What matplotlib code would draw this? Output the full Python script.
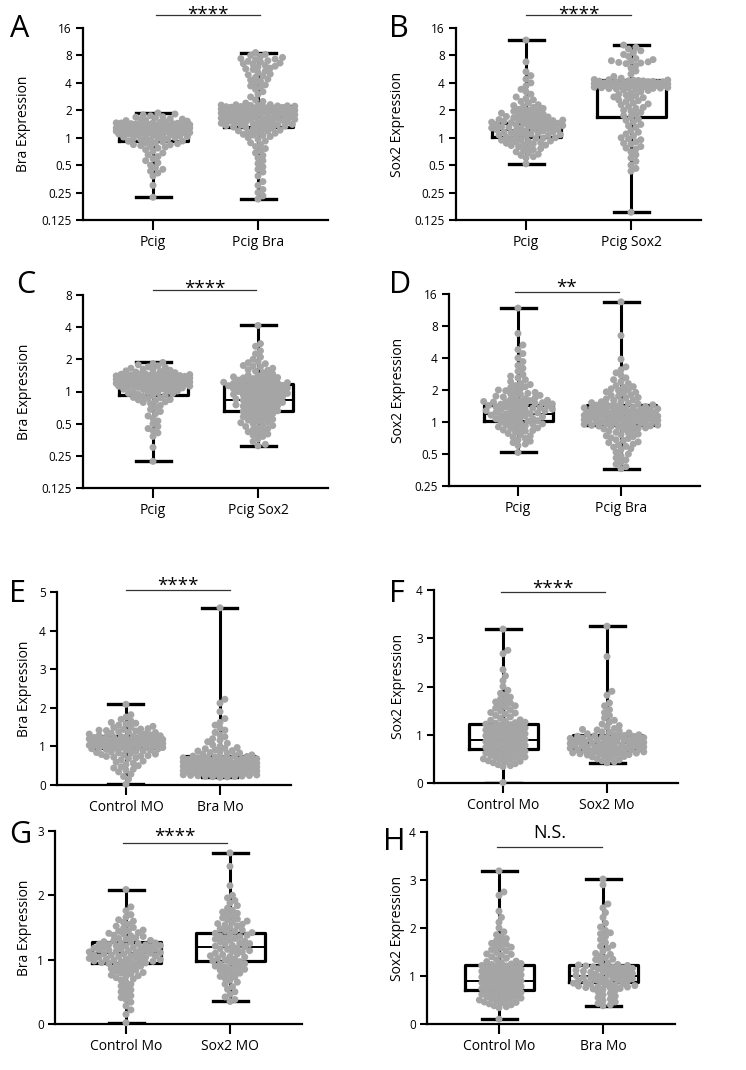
import numpy as np
import matplotlib
matplotlib.use("Agg")
import matplotlib.pyplot as plt
from matplotlib.ticker import FixedLocator, FixedFormatter, NullLocator

plt.rcParams['font.family'] = ['Open Sans', 'DejaVu Sans']

# ---------------- data ----------------
# box statistics: [min, q1, median, q3, max]
pcig_bra_box = [0.222, 0.93, 1.12, 1.31, 1.87]
pcigbra_bra_box = [0.212, 1.31, 1.69, 2.25, 8.6]
pcig_sox2_box = [0.517, 1.02, 1.2, 1.46, 11.8]
pcigsox2_sox2_box = [0.152, 1.69, 3.8, 4.28, 10.4]
pcigsox2_bra_box = [0.31, 0.65, 0.84, 1.18, 4.15]
pcigbra_sox2_box = [0.364, 0.93, 1.15, 1.43, 13.5]
ctrl_bra_box = [0.02, 0.95, 1.1, 1.27, 2.09]
bramo_bra_box = [0.2, 0.43, 0.55, 0.75, 4.59]
ctrl_sox2_f_box = [0.01, 0.71, 0.9, 1.22, 3.19]
ctrl_sox2_h_box = [0.10, 0.71, 0.9, 1.23, 3.19]
sox2mo_sox2_box = [0.42, 0.69, 0.82, 0.99, 3.25]
sox2mo_bra_box = [0.35, 0.98, 1.2, 1.41, 2.66]
bramo_sox2_box = [0.38, 0.88, 1.0, 1.23, 3.02]

# individual cell values
pcig_bra = [1.87, 1.82, 1.78, 1.74, 1.70, 1.68, 1.65, 1.62, 1.6, 1.58, 1.56, 1.54, 1.52, 1.5, 1.48,
            1.46, 1.45, 1.44, 1.43, 1.42, 1.41, 1.4, 1.39, 1.38, 1.37, 1.36, 1.35, 1.34, 1.33, 1.32,
            1.31, 1.30, 1.29, 1.28, 1.27, 1.26, 1.25, 1.24, 1.23, 1.22, 1.21, 1.20, 1.19, 1.18, 1.17,
            1.16, 1.15, 1.14, 1.13, 1.12, 1.11, 1.10, 1.08, 1.06, 1.05, 1.03, 1.01, 1.0, 0.98, 0.96,
            0.94, 0.92, 0.9, 0.88, 0.86, 0.84, 0.82, 0.8, 0.77, 0.74, 0.71, 0.68, 0.65, 0.62, 0.59,
            0.56, 0.53, 0.5, 0.47, 0.45, 0.43, 0.41, 0.38, 0.3, 0.222,
            1.455, 1.427, 1.409, 1.386, 1.372, 1.351, 1.338, 1.316, 1.297, 1.279, 1.258, 1.243,
            1.226, 1.208, 1.187, 1.173, 1.158, 1.137, 1.124, 1.107, 1.093, 1.072, 1.044, 1.017,
            0.987, 0.953, 0.915, 0.872, 0.835, 0.79]
pcigbra_bra = [8.6, 8.2, 8.0, 7.8, 7.6, 7.4, 7.2, 7.0, 6.8, 6.6, 6.4, 6.2, 6.0, 5.8, 5.6, 5.4,
               5.2, 5.0, 4.8, 4.6, 4.4, 4.2, 4.0, 3.8, 3.6, 3.4, 3.2, 3.0, 2.8, 2.6, 2.5, 2.4,
               2.3, 2.28, 2.26, 2.24, 2.22, 2.2, 2.18, 2.16, 2.14, 2.12, 2.1, 2.08, 2.06, 2.04, 2.02,
               2.0, 1.98, 1.96, 1.94, 1.92, 1.9, 1.88, 1.86, 1.84, 1.82, 1.8, 1.78, 1.76, 1.74, 1.72,
               1.7, 1.68, 1.66, 1.64, 1.62, 1.6, 1.58, 1.56, 1.54, 1.52, 1.5, 1.48, 1.46, 1.44, 1.42,
               1.4, 1.38, 1.36, 1.34, 1.32, 1.3, 1.27, 1.24, 1.21, 1.18, 1.15, 1.12, 1.09, 1.06, 1.03,
               1.0, 0.96, 0.92, 0.88, 0.84, 0.8, 0.76, 0.72, 0.68, 0.64, 0.6, 0.56, 0.52, 0.48, 0.45,
               0.42, 0.38, 0.33, 0.3, 0.27, 0.25, 0.23, 0.212,
               2.31, 2.27, 2.23, 2.19, 2.15, 2.11, 2.07, 2.03, 1.99, 1.95, 1.91, 1.87, 1.83, 1.79,
               1.75, 1.71, 1.67, 1.63, 1.59, 1.55, 1.51, 1.47, 1.43, 1.39, 1.35, 1.31, 1.25, 1.19,
               1.13, 1.07, 7.3, 6.9, 6.5, 6.1, 5.7, 4.9, 4.3, 3.7]
pcig_sox2 = [11.8, 6.8, 5.3, 4.8, 4.4, 4.0, 3.7, 3.4, 3.2, 3.0, 2.8, 2.7, 2.6, 2.5, 2.4, 2.3, 2.2,
             2.15, 2.1, 2.05, 2.0, 1.95, 1.9, 1.86, 1.82, 1.78, 1.75, 1.72, 1.69, 1.66, 1.63, 1.6,
             1.58, 1.56, 1.54, 1.52, 1.5, 1.48, 1.46, 1.44, 1.42, 1.4, 1.38, 1.36, 1.34, 1.32, 1.3,
             1.28, 1.26, 1.24, 1.22, 1.2, 1.18, 1.16, 1.14, 1.12, 1.1, 1.08, 1.06, 1.04, 1.02, 1.0,
             0.98, 0.96, 0.94, 0.92, 0.9, 0.88, 0.86, 0.84, 0.82, 0.8, 0.78, 0.76, 0.74, 0.72, 0.7,
             0.68, 0.66, 0.64, 0.62, 0.6, 0.517,
             1.59, 1.55, 1.51, 1.47, 1.43, 1.39, 1.35, 1.31, 1.27, 1.23, 1.19, 1.15, 1.11, 1.07,
             1.03, 0.99, 0.95, 0.91, 0.87, 0.83, 1.71, 1.84, 1.97, 2.25]
pcigsox2_sox2 = [10.4, 9.8, 9.4, 9.0, 8.6, 8.2, 7.8, 7.4, 7.2, 7.0, 6.9, 6.8, 6.7, 6.6, 6.5, 6.2, 5.8,
                 5.4, 5.0, 4.7, 4.5, 4.35, 4.3, 4.25, 4.2, 4.15, 4.1, 4.05, 4.0, 3.96, 3.92, 3.88,
                 3.84, 3.8, 3.76, 3.72, 3.68, 3.64, 3.6, 3.56, 3.52, 3.48, 3.44, 3.4, 3.35, 3.3, 3.2,
                 3.1, 3.0, 2.9, 2.8, 2.7, 2.6, 2.5, 2.4, 2.3, 2.2, 2.1, 2.0, 1.9, 1.8, 1.7, 1.6, 1.5,
                 1.4, 1.3, 1.2, 1.1, 1.05, 1.0, 0.95, 0.9, 0.85, 0.8, 0.75, 0.7, 0.65, 0.6, 0.55,
                 0.5, 0.46, 0.43, 0.152,
                 4.33, 4.28, 4.22, 4.18, 4.12, 4.07, 4.02, 3.98, 3.94, 3.9, 3.86, 3.82, 3.78, 3.74,
                 3.7, 3.66, 3.62, 3.58, 3.54, 3.5, 3.46, 2.95, 2.75,
                 2.55, 2.35, 2.15, 1.95, 1.75, 1.55, 1.35, 1.15, 0.97, 0.87, 0.77]
pcigsox2_bra = [4.15, 2.8, 2.65, 2.4, 2.25, 2.1, 2.0, 1.9, 1.82, 1.75, 1.7, 1.65, 1.6, 1.55, 1.5,
                1.46, 1.42, 1.4, 1.37, 1.34, 1.31, 1.28, 1.25, 1.22, 1.2, 1.18, 1.16, 1.14, 1.12,
                1.1, 1.08, 1.06, 1.04, 1.02, 1.0, 0.98, 0.96, 0.94, 0.92, 0.9, 0.88, 0.86, 0.84,
                0.82, 0.8, 0.78, 0.76, 0.74, 0.72, 0.7, 0.68, 0.66, 0.64, 0.62, 0.6, 0.58, 0.56,
                0.54, 0.52, 0.5, 0.48, 0.46, 0.44, 0.42, 0.4, 0.38, 0.36, 0.34, 0.32, 0.31,
                1.39, 1.35, 1.32, 1.29, 1.26, 1.23, 1.21, 1.19, 1.17, 1.15, 1.13, 1.11, 1.09, 1.07,
                1.05, 1.03, 1.01, 0.99, 0.97, 0.95, 0.93, 0.91, 0.89, 0.87, 0.85, 0.83, 0.81, 0.79,
                0.77, 0.75, 0.73, 0.71, 0.69, 0.67, 0.65, 0.63, 0.61, 0.59, 0.57, 0.55, 0.53, 0.51,
                0.49, 0.47, 0.45, 0.43, 0.41, 0.39, 1.58, 1.72, 1.86]
pcigbra_sox2 = [13.5, 6.5, 3.9, 3.3, 3.1, 2.9, 2.75, 2.6, 2.5, 2.4, 2.3, 2.2, 2.12, 2.05, 1.98, 1.92,
                1.86, 1.8, 1.75, 1.7, 1.65, 1.62, 1.6, 1.56, 1.52, 1.5, 1.48, 1.45, 1.42, 1.4, 1.39,
                1.36, 1.35, 1.33, 1.31, 1.3, 1.28, 1.27, 1.26, 1.25, 1.24, 1.23, 1.22, 1.21, 1.2,
                1.19, 1.18, 1.17, 1.16, 1.15, 1.14, 1.13, 1.12, 1.11, 1.1, 1.09, 1.08, 1.07, 1.06,
                1.05, 1.04, 1.03, 1.02, 1.01, 1.0, 0.99, 0.98, 0.97, 0.96, 0.95, 0.94, 0.93, 0.92,
                0.91, 0.9, 0.88, 0.87, 0.85, 0.82, 0.79, 0.76, 0.73, 0.7, 0.67, 0.64, 0.61, 0.58,
                0.55, 0.52, 0.5, 0.48, 0.46, 0.44, 0.42, 0.4, 0.38, 0.364,
                1.47, 1.44, 1.41, 1.38, 1.37, 1.34, 1.32, 1.29, 1.255, 1.235, 1.215, 1.195, 1.175,
                1.155, 1.135, 1.115, 1.095, 1.075, 1.055, 1.035, 1.015, 0.995, 0.975, 0.955, 0.935,
                0.915, 0.895, 0.86, 0.83, 0.8, 0.77, 0.74, 0.71, 0.68, 0.65, 0.62, 0.59, 0.56, 1.55,
                1.68, 1.78, 1.9, 2.0, 2.15]
ctrl_bra = [2.09, 1.82, 1.76, 1.7, 1.66, 1.62, 1.58, 1.55, 1.52, 1.49, 1.46, 1.44, 1.42, 1.4, 1.38,
            1.36, 1.34, 1.32, 1.3, 1.28, 1.26, 1.25, 1.24, 1.23, 1.22, 1.21, 1.2, 1.19, 1.18, 1.17,
            1.16, 1.15, 1.14, 1.13, 1.12, 1.11, 1.1, 1.09, 1.08, 1.07, 1.06, 1.05, 1.04, 1.03, 1.02,
            1.01, 1.0, 0.99, 0.98, 0.97, 0.96, 0.95, 0.94, 0.92, 0.9, 0.88, 0.86, 0.84, 0.82, 0.8,
            0.78, 0.76, 0.74, 0.72, 0.7, 0.68, 0.65, 0.62, 0.59, 0.56, 0.53, 0.5, 0.47, 0.44, 0.41,
            0.38, 0.34, 0.28, 0.22, 0.15, 0.02,
            1.295, 1.275, 1.255, 1.235, 1.215, 1.195, 1.175, 1.155, 1.135, 1.115, 1.095, 1.075,
            1.055, 1.035, 1.015, 0.995, 0.975, 0.955, 0.93, 0.91, 0.87, 0.83, 0.79, 0.75, 1.33,
            1.37, 1.41, 1.45, 1.5, 1.6]
bramo_bra = [4.59, 2.22, 2.12, 1.9, 1.72, 1.62, 1.55, 1.48, 1.42, 1.36, 1.3, 1.25, 1.2, 1.16, 1.12,
             1.08, 1.04, 1.0, 0.97, 0.94, 0.91, 0.88, 0.86, 0.84, 0.82, 0.8, 0.78, 0.76, 0.75, 0.74,
             0.73, 0.72, 0.71, 0.7, 0.69, 0.68, 0.67, 0.66, 0.65, 0.64, 0.63, 0.62, 0.61, 0.6, 0.59,
             0.58, 0.57, 0.56, 0.55, 0.54, 0.53, 0.52, 0.51, 0.5, 0.49, 0.48, 0.47, 0.46, 0.45, 0.44,
             0.43, 0.42, 0.41, 0.4, 0.39, 0.38, 0.37, 0.36, 0.35, 0.34, 0.33, 0.32, 0.31, 0.3, 0.29,
             0.28, 0.27, 0.26, 0.25, 0.24, 0.23, 0.22, 0.21, 0.2,
             0.705, 0.685, 0.665, 0.645, 0.625, 0.605, 0.585, 0.565, 0.545, 0.525, 0.505, 0.485,
             0.465, 0.445, 0.425, 0.405, 0.385, 0.365, 0.345, 0.325, 0.305, 0.285, 0.265, 0.245,
             0.225, 0.215, 0.83, 0.89, 0.95]
ctrl_sox2_f = [3.19, 2.75, 2.68, 2.35, 2.22, 2.12, 2.0, 1.92, 1.86, 1.82, 1.78, 1.74, 1.7, 1.66, 1.62,
               1.58, 1.55, 1.52, 1.49, 1.46, 1.43, 1.4, 1.37, 1.34, 1.31, 1.28, 1.26, 1.24, 1.22,
               1.2, 1.18, 1.16, 1.14, 1.12, 1.1, 1.08, 1.06, 1.04, 1.02, 1.0, 0.98, 0.96, 0.94,
               0.92, 0.9, 0.88, 0.86, 0.84, 0.82, 0.8, 0.78, 0.76, 0.74, 0.72, 0.7, 0.68, 0.66,
               0.64, 0.62, 0.6, 0.58, 0.56, 0.54, 0.52, 0.5, 0.48, 0.46, 0.44, 0.42, 0.4, 0.38,
               0.36, 0.34,
               1.25, 1.21, 1.17, 1.13, 1.09, 1.05, 1.01, 0.97, 0.93, 0.89, 0.85, 0.81, 0.77, 0.73,
               0.69, 0.65, 0.61, 0.57, 0.53, 0.49, 0.45, 1.3, 1.45, 1.6, 1.68, 0.01]
ctrl_sox2_h = ctrl_sox2_f[:-1] + [0.10]
sox2mo_sox2 = [3.25, 2.62, 1.9, 1.82, 1.66, 1.6, 1.52, 1.46, 1.4, 1.35, 1.3, 1.26, 1.22, 1.19, 1.16,
               1.13, 1.1, 1.08, 1.06, 1.04, 1.02, 1.0, 0.99, 0.98, 0.97, 0.96, 0.95, 0.94, 0.93,
               0.92, 0.91, 0.9, 0.89, 0.88, 0.87, 0.86, 0.85, 0.84, 0.83, 0.82, 0.81, 0.8, 0.79,
               0.78, 0.77, 0.76, 0.75, 0.74, 0.73, 0.72, 0.71, 0.7, 0.69, 0.68, 0.67, 0.66, 0.65,
               0.64, 0.63, 0.62, 0.61, 0.6, 0.58, 0.56, 0.54, 0.52, 0.5, 0.48, 0.46, 0.44, 0.42,
               0.985, 0.965, 0.945, 0.925, 0.905, 0.885, 0.865, 0.845, 0.825, 0.805, 0.785, 0.765,
               0.745, 0.725, 0.705, 0.685, 0.665, 0.645, 0.625, 0.605, 0.59, 0.57, 0.55, 1.05, 1.11]
sox2mo_bra = [2.66, 2.45, 2.15, 2.0, 1.96, 1.92, 1.88, 1.84, 1.8, 1.77, 1.74, 1.71, 1.68, 1.65, 1.62,
              1.6, 1.58, 1.56, 1.54, 1.52, 1.5, 1.48, 1.46, 1.44, 1.42, 1.4, 1.38, 1.36, 1.34, 1.32,
              1.3, 1.28, 1.26, 1.24, 1.22, 1.2, 1.18, 1.16, 1.14, 1.12, 1.1, 1.08, 1.06, 1.04, 1.02,
              1.0, 0.98, 0.96, 0.94, 0.92, 0.9, 0.88, 0.86, 0.84, 0.82, 0.8, 0.77, 0.74, 0.71, 0.68,
              0.65, 0.62, 0.58, 0.54, 0.5, 0.46, 0.42, 0.38, 0.35,
              1.45, 1.41, 1.37, 1.33, 1.29, 1.25, 1.21, 1.17, 1.13, 1.09, 1.05, 1.01, 0.97, 0.93,
              0.89, 0.85, 1.55, 1.63, 1.72, 0.79, 0.73]
bramo_sox2 = [3.02, 2.9, 2.5, 2.42, 2.32, 2.22, 2.1, 2.02, 1.95, 1.88, 1.82, 1.76, 1.7, 1.64, 1.58,
              1.52, 1.47, 1.42, 1.38, 1.34, 1.3, 1.27, 1.24, 1.22, 1.2, 1.18, 1.16, 1.14, 1.12, 1.1,
              1.08, 1.06, 1.04, 1.02, 1.0, 0.98, 0.96, 0.94, 0.92, 0.9, 0.88, 0.86, 0.84, 0.82, 0.8,
              0.78, 0.76, 0.74, 0.72, 0.7, 0.67, 0.64, 0.61, 0.58, 0.55, 0.52, 0.49, 0.46, 0.43,
              0.4, 0.38,
              1.23, 1.21, 1.19, 1.17, 1.15, 1.13, 1.11, 1.09, 1.07, 1.05, 1.03, 1.01, 0.99, 0.97,
              0.95, 0.93, 0.91, 0.89, 0.87, 0.85, 0.83, 0.81, 0.79, 0.77, 0.75, 0.73, 1.35, 1.45,
              1.62, 1.9]

log_ticks = [0.125, 0.25, 0.5, 1, 2, 4, 8, 16]
log_labels = ['0.125', '0.25', '0.5', '1', '2', '4', '8', '16']

# ---------------- layout ----------------
W, H = 746, 1070
fig = plt.figure(figsize=(W / 100, H / 100), dpi=100)

GREY = '#a5a5a5'
BOX_PX = 69
CAP_PX = 35
DOT_PX = 7.0

panels = [
    dict(letter='A', pix=(83, 328, 28, 220), ticks_px=(153, 258), log=True, ylim=(0.125, 16),
         yt=log_ticks, ytl=log_labels, ylabel='Bra Expression', labx=31,
         cats=['Pcig', 'Pcig Bra'], data=[pcig_bra, pcigbra_bra], box=[pcig_bra_box, pcigbra_bra_box],
         sig='****', sig_y=15, sig_x=(156, 260), sig_c=9, let=(10, 37)),
    dict(letter='B', pix=(456, 701, 28, 220), ticks_px=(526, 631), log=True, ylim=(0.125, 16),
         yt=log_ticks, ytl=log_labels, ylabel='Sox2 Expression', labx=405,
         cats=['Pcig', 'Pcig Sox2'], data=[pcig_sox2, pcigsox2_sox2], box=[pcig_sox2_box, pcigsox2_sox2_box],
         sig='****', sig_y=15, sig_x=(526, 631), sig_c=9, let=(389, 37)),
    dict(letter='C', pix=(83, 328, 295, 488), ticks_px=(153, 258), log=True, ylim=(0.125, 8),
         yt=log_ticks[:-1], ytl=log_labels[:-1], ylabel='Bra Expression', labx=32,
         cats=['Pcig', 'Pcig Sox2'], data=[pcig_bra, pcigsox2_bra], box=[pcig_bra_box, pcigsox2_bra_box],
         sig='****', sig_y=290, sig_x=(153, 256), sig_c=283.5, let=(16, 293)),
    dict(letter='D', pix=(449, 700, 294, 486), ticks_px=(518, 621), log=True, ylim=(0.25, 16),
         yt=log_ticks[1:], ytl=log_labels[1:], ylabel='Sox2 Expression', labx=406,
         cats=['Pcig', 'Pcig Bra'], data=[pcig_sox2, pcigbra_sox2], box=[pcig_sox2_box, pcigbra_sox2_box],
         sig='**', sig_y=292, sig_x=(515, 619), sig_c=282, let=(389, 293)),
    dict(letter='E', pix=(57, 291, 592, 785), ticks_px=(126, 220), log=False, ylim=(0, 5),
         yt=[0, 1, 2, 3, 4, 5], ytl=['0', '1', '2', '3', '4', '5'], ylabel='Bra Expression', labx=32,
         cats=['Control MO', 'Bra Mo'], data=[ctrl_bra, bramo_bra], box=[ctrl_bra_box, bramo_bra_box],
         sig='****', sig_y=590, sig_x=(126, 230), sig_c=580, let=(9, 602)),
    dict(letter='F', pix=(434, 678, 590, 783), ticks_px=(503, 607), log=False, ylim=(0, 4),
         yt=[0, 1, 2, 3, 4], ytl=['0', '1', '2', '3', '4'], ylabel='Sox2 Expression', labx=406,
         cats=['Control Mo', 'Sox2 Mo'], data=[ctrl_sox2_f, sox2mo_sox2], box=[ctrl_sox2_f_box, sox2mo_sox2_box],
         sig='****', sig_y=592, sig_x=(501, 605), sig_c=583.5, let=(389, 602)),
    dict(letter='G', pix=(55, 302, 831, 1024), ticks_px=(126, 230), log=False, ylim=(0, 3),
         yt=[0, 1, 2, 3], ytl=['0', '1', '2', '3'], ylabel='Bra Expression', labx=32,
         cats=['Control Mo', 'Sox2 MO'], data=[ctrl_bra, sox2mo_bra], box=[ctrl_bra_box, sox2mo_bra_box],
         sig='****', sig_y=843, sig_x=(123, 227), sig_c=831.5, let=(9, 843)),
    dict(letter='H', pix=(427, 675, 832, 1024), ticks_px=(499, 603), log=False, ylim=(0, 4),
         yt=[0, 1, 2, 3, 4], ytl=['0', '1', '2', '3', '4'], ylabel='Sox2 Expression', labx=405,
         cats=['Control Mo', 'Bra Mo'], data=[ctrl_sox2_h, bramo_sox2], box=[ctrl_sox2_h_box, bramo_sox2_box],
         sig='N.S.', sig_y=847, sig_x=(497, 602), sig_c=831.5, let=(383, 850)),
]


def swarm(ax, xc, vals, d, half_px, sep):
    """Beeswarm layout in display pixels; returns x offsets in data units."""
    vals = np.asarray(vals, float)
    disp = ax.transData.transform(np.column_stack([np.full(len(vals), xc), vals]))
    ys = disp[:, 1]
    ppu = ax.transData.transform((1, 0))[0] - ax.transData.transform((0, 0))[0]
    step = d * 0.35
    K = int(half_px / step)
    cands = [0.0]
    for k in range(1, K + 1):
        cands += [k * step, -k * step]
    cands = np.array(cands)
    order = np.argsort(ys)
    px, py = [], []
    offs = np.zeros(len(vals))
    for i in order:
        y = ys[i]
        if px:
            ax_ = np.array(px)
            ay_ = np.array(py)
            m = np.abs(ay_ - y) < sep
            nx, ny = ax_[m], ay_[m]
        else:
            nx = ny = np.array([])
        if len(nx) == 0:
            best = 0.0
        else:
            dmat = np.hypot(cands[:, None] - nx[None, :], y - ny[None, :]).min(axis=1)
            ok = np.where(dmat >= sep)[0]
            best = cands[ok[0]] if len(ok) else cands[np.argmax(dmat)]
        offs[i] = best
        px.append(best)
        py.append(y)
    return offs / ppu


for p in panels:
    l, r, t, b = p['pix']
    ax = fig.add_axes([l / W, 1 - b / H, (r - l) / W, (b - t) / H])
    t0, t1 = p['ticks_px']
    ppu = t1 - t0
    ax.set_xlim((l - t0) / ppu, (r - t0) / ppu)
    if p['log']:
        ax.set_yscale('log', base=2)
    ax.set_ylim(*p['ylim'])
    ax.yaxis.set_major_locator(FixedLocator(p['yt']))
    ax.yaxis.set_major_formatter(FixedFormatter(p['ytl']))
    ax.yaxis.set_minor_locator(NullLocator())
    ax.set_xticks([0, 1])
    ax.set_xticklabels(p['cats'], fontsize=10)
    ax.tick_params(axis='y', labelsize=8.5, length=5, width=1.5, pad=3, color='black')
    ax.tick_params(axis='x', length=7, width=1.5, pad=4, color='black')
    for s in ['top', 'right']:
        ax.spines[s].set_visible(False)
    for s in ['left', 'bottom']:
        ax.spines[s].set_linewidth(1.6)
    ax.set_ylabel(p['ylabel'], fontsize=10)
    ax.yaxis.set_label_coords((p['labx'] - l) / (r - l), 0.5)

    stats = []
    for bx in p['box']:
        stats.append(dict(whislo=bx[0], q1=bx[1], med=bx[2], q3=bx[3], whishi=bx[4], fliers=[]))
    ax.bxp(stats, positions=[0, 1], widths=BOX_PX / ppu, capwidths=CAP_PX / ppu,
           showfliers=False, manage_ticks=False,
           boxprops=dict(color='black', linewidth=2.3),
           whiskerprops=dict(color='black', linewidth=2.2),
           capprops=dict(color='black', linewidth=2.4),
           medianprops=dict(color='black', linewidth=1.4), zorder=2)

    for xi, vals in enumerate(p['data']):
        offs = swarm(ax, xi, vals, DOT_PX, 38, DOT_PX * 0.75)
        ax.scatter(xi + offs, vals, s=(DOT_PX * 0.72) ** 2, color=GREY, edgecolors='none',
                   zorder=3, clip_on=False)

    # significance bar (figure pixel coordinates)
    x0, x1 = p['sig_x']
    yline = 1 - p['sig_y'] / H
    fig.add_artist(plt.Line2D([x0 / W, x1 / W], [yline, yline], color='#333333', lw=0.9,
                              transform=fig.transFigure))
    if p['sig'] == 'N.S.':
        fig.text((x0 + x1) / 2 / W, 1 - (p['sig_c'] + 6.5) / H, p['sig'], fontsize=13,
                 ha='center', va='baseline')
    else:
        fig.text((x0 + x1) / 2 / W, 1 - (p['sig_c'] + 10.5) / H, p['sig'], fontsize=13.5,
                 ha='center', va='baseline')

    fig.text(p['let'][0] / W, 1 - p['let'][1] / H, p['letter'], fontsize=22,
             ha='left', va='baseline')

fig.savefig('out.png', dpi=100)
